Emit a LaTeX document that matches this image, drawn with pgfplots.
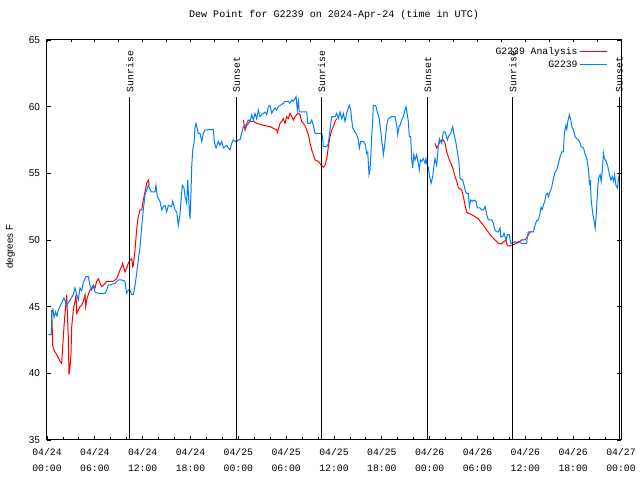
\documentclass[border=0pt]{standalone}
\usepackage{fontspec}
\setmainfont{Liberation Mono}
\newfontfamily\sansf{Liberation Sans}
\usepackage{pgfplots}
\pgfplotsset{compat=1.18}
\definecolor{obsblue}{RGB}{0,128,255}
\definecolor{anared}{RGB}{255,0,0}
\begin{document}
\begin{tikzpicture}[x=1bp,y=1bp]
\useasboundingbox (-47,-40) rectangle (593,440);
\begin{axis}[
  at={(0,0)}, anchor=south west, scale only axis,
  width=574bp, height=400bp,
  xmin=0, xmax=72, ymin=35, ymax=65,
  axis x line*=top, axis y line=none, tick align=inside,
  xtick={0,3,...,72}, xticklabels={}, major tick length=2.5bp,
  tick style={black, line width=0.8bp},
  axis line style={draw=none},
]
\end{axis}
\begin{axis}[
  at={(0,0)}, anchor=south west, scale only axis,
  width=574bp, height=400bp,
  xmin=0, xmax=72, ymin=35, ymax=65,
  clip=false,
  xtick pos=left,
  xtick={0,6,...,72}, minor x tick num=2,
  xticklabels={{04/24\\00:00},{04/24\\06:00},{04/24\\12:00},{04/24\\18:00},{04/25\\00:00},{04/25\\06:00},{04/25\\12:00},{04/25\\18:00},{04/26\\00:00},{04/26\\06:00},{04/26\\12:00},{04/26\\18:00},{04/27\\00:00}},
  xticklabel style={align=center, font=\fontsize{9.8}{16.3}\selectfont, yshift=-5bp},
  ytick={35,40,...,65},
  /pgf/number format/assume math mode=true,
  yticklabel style={font=\sansf\fontsize{10}{11}\selectfont, xshift=-3.5bp},
  ylabel={degrees F},
  ylabel style={font=\sansf\fontsize{9.8}{10}\selectfont, at={(axis description cs:-0.064,0.483)}, anchor=center},
  title={Dew Point for G2239 on 2024-Apr-24 (time in UTC)},
  title style={font=\fontsize{10.1}{11}\selectfont, at={(axis description cs:0.5,1)}, anchor=base, yshift=17bp},
  major tick length=4bp, minor tick length=2.5bp,
  tick style={black, line width=0.8bp},
  axis line style={black, line width=1bp},
  unbounded coords=jump,
  legend style={draw=none, fill=none, at={(rel axis cs:1,1)}, anchor=north east, xshift=-10bp, yshift=-3bp,
    font=\fontsize{9.8}{11}\selectfont, row sep=1bp, /tikz/every even column/.append style={column sep=3bp}},
  legend cell align=right,
  legend plot pos=right,
  legend image post style={xscale=1.6},
]
\addplot[color=anared, line width=1bp] coordinates {
(0.59,44.75) (0.72,42.1) (0.79,41.9) (1.0,41.6) (1.22,41.4) (1.63,40.9) (1.84,40.75) (1.97,42.0) (2.13,43.5) (2.26,44.5) (2.47,45.9) (2.67,42.75) (2.76,39.9) (2.89,40.5) (3.01,41.5) (3.10,43.5) (3.30,44.75) (3.51,45.4) (3.64,45.9) (3.73,44.5) (3.93,44.75) (4.14,45.0) (4.35,45.1) (4.55,45.4) (4.77,45.9) (4.85,45.0) (4.98,45.5) (5.18,45.9) (5.39,46.25) (5.61,46.4) (5.81,46.6) (6.02,46.4) (6.23,46.9) (6.44,47.1) (6.65,46.75) (6.86,46.5) (7.06,46.6) (7.49,46.9) (7.90,46.9) (8.32,46.9) (8.53,47.0) (8.74,47.1) (8.94,47.4) (9.16,47.75) (9.37,48.0) (9.49,48.25) (9.78,47.6) (9.99,47.9) (10.20,48.25) (10.41,48.5) (10.62,48.6) (10.75,48.0) (10.83,48.1) (11.04,49.25) (11.17,50.25) (11.33,51.25) (11.45,51.75) (11.67,52.25) (11.88,52.25) (12.08,53.0) (12.29,53.6) (12.51,54.25) (12.71,54.5) (12.83,54.1)
(13,nan)
(24.62,59.0) (24.84,58.25) (25.05,58.6) (25.46,58.9) (25.88,58.9) (26.30,58.75) (27.14,58.6) (27.97,58.5) (28.81,58.25) (28.89,58.05) (29.23,58.75) (29.45,58.9) (29.64,59.1) (29.85,58.75) (30.07,59.25) (30.27,59.1) (30.48,59.5) (30.70,59.25) (30.90,59.0) (31.11,59.25) (31.32,59.4) (31.53,59.5) (31.74,59.4) (31.94,58.9) (32.36,58.6) (32.58,58.25) (32.78,57.9) (33.0,57.25) (33.21,56.75) (33.41,56.4) (33.62,56.0) (34.03,55.9) (34.24,55.75) (34.46,55.55) (34.66,55.45) (34.87,55.6) (35.09,56.1) (35.29,57.0) (35.50,57.75) (35.71,58.25) (35.92,58.5) (36.13,58.9) (36.34,59.1)
(40,nan)
(48.67,57.25) (48.88,56.9) (49.08,57.1) (49.30,57.4) (49.64,57.5) (49.71,57.5) (49.93,57.25) (50.14,56.6) (50.47,56.0) (50.77,55.6) (50.97,55.25) (51.18,54.75) (51.40,54.4) (51.60,53.9) (51.81,53.85) (52.02,53.75) (52.23,53.25) (52.44,52.6) (52.65,52.1) (52.85,52.0) (53.27,51.9) (53.69,51.75) (54.10,51.6) (54.32,51.4) (54.74,51.1) (55.16,50.75) (55.57,50.4) (55.78,50.25) (56.20,50.0) (56.62,49.75) (57.04,49.7) (57.24,49.85) (57.58,50.0) (57.75,49.55) (58.09,49.55) (58.43,49.65) (58.71,49.7) (59.12,49.8) (59.54,50.0) (59.96,50.0) (60.25,50.25) (60.59,50.6) (60.80,50.6)
};
\addlegendentry{G2239 Analysis}
\addplot[color=obsblue, line width=1bp] coordinates {
(0.16,42.9) (0.55,42.9) (0.59,44.5) (0.75,44.8) (0.88,44.2) (1.07,44.6) (1.25,44.3) (1.42,44.75) (1.84,45.3) (2.13,45.65) (2.47,45.1) (2.89,45.5) (3.30,45.9) (3.51,46.4) (3.73,45.9) (3.93,45.5) (4.14,46.4) (4.35,46.2) (4.55,46.8) (4.89,47.25) (5.18,47.25) (5.39,46.6) (5.61,46.25) (5.81,46.6) (6.02,46.1) (6.44,46.0) (7.28,46.0) (7.49,46.25) (7.69,46.6) (8.53,46.75) (8.94,47.0) (9.37,47.0) (9.78,46.9) (9.99,46.0) (10.20,46.25) (10.41,46.25) (10.62,45.9) (10.83,45.9) (11.04,46.6) (11.25,47.5) (11.45,48.5) (11.67,49.5) (11.88,51.0) (12.08,52.25) (12.29,53.4) (12.51,53.75) (12.71,54.1) (12.92,53.8) (13.13,53.6) (13.55,53.6) (13.67,54.1) (13.84,53.25) (14.17,52.9) (14.39,52.25) (14.59,52.5) (14.80,52.6) (15.01,52.1) (15.22,52.6) (15.64,52.5) (15.77,52.9) (16.06,52.25) (16.27,52.1) (16.47,51.1) (16.68,51.9) (16.81,52.9) (16.97,54.1) (17.19,53.9) (17.31,53.25) (17.52,52.75) (17.65,54.5) (17.85,52.25) (17.94,51.6) (18.06,53.5) (18.15,55.5) (18.28,56.75) (18.44,57.25) (18.56,58.4) (18.69,58.75) (18.98,58.0) (19.19,58.0) (19.41,57.4) (19.61,58.0) (19.82,58.25) (20.86,58.3) (20.99,57.4) (21.20,56.9) (21.49,57.4) (21.70,57.1) (21.91,57.4) (22.12,56.9) (22.54,57.1) (22.74,56.9) (22.96,56.75) (23.17,57.25) (23.37,57.5) (23.58,57.4) (23.80,57.4) (24.00,57.5) (24.21,57.5) (24.42,58.0) (24.62,58.5) (24.84,58.5) (25.05,58.75) (25.25,59.0) (25.46,58.9) (25.68,59.4) (25.88,59.0) (26.09,59.5) (26.30,59.1) (26.51,59.75) (26.72,59.25) (26.93,59.4) (27.14,59.5) (27.35,59.6) (27.56,59.4) (27.76,60.0) (27.97,60.1) (28.19,59.5) (28.39,59.75) (28.60,59.9) (28.81,59.75) (29.02,60.0) (29.64,60.25) (29.85,60.4) (30.27,60.4) (30.48,60.25) (30.70,60.5) (30.90,60.4) (31.11,60.6) (31.24,60.75) (31.40,59.75) (31.53,60.4) (31.65,59.6) (32.58,59.6) (32.71,58.75) (33.0,58.75) (33.21,59.0) (33.41,58.6) (33.62,58.0) (34.24,58.0) (34.46,58.0) (34.58,57.6) (34.66,57.0) (35.09,57.0) (35.29,57.25) (35.50,58.25) (35.71,59.25) (36.13,59.25) (36.34,59.5) (36.54,59.1) (36.75,59.6) (36.97,59.1) (37.17,59.5) (37.38,58.9) (37.59,59.5) (37.80,59.9) (37.92,60.1) (38.10,59.75) (38.22,59.0) (38.35,58.4) (38.64,58.1) (38.85,57.9) (39.05,57.5) (39.18,56.9) (39.35,57.4) (39.68,57.4) (39.89,57.25) (40.10,56.5) (40.23,56.6) (40.39,54.9) (40.52,55.25) (40.64,56.6) (40.73,57.75) (40.85,58.9) (40.93,60.1) (41.14,60.1) (41.27,60.0) (41.43,59.6) (41.68,59.1) (41.77,58.6) (41.90,58.0) (41.98,57.5) (42.11,56.9) (42.19,56.4) (42.31,56.9) (42.44,57.6) (42.61,58.6) (42.81,59.1) (43.24,59.25) (43.65,59.25) (43.87,58.6) (43.99,57.9) (44.16,58.5) (44.28,58.6) (44.49,59.0) (44.69,59.25) (44.91,59.75) (45.03,60.0) (45.20,59.4) (45.32,58.9) (45.45,57.75) (45.62,57.75) (45.75,56.0) (45.87,55.4) (46.0,56.4) (46.16,56.0) (46.37,56.4) (46.57,55.75) (46.70,55.25) (46.83,56.0) (47.0,55.9) (47.21,56.1) (47.42,55.75) (47.54,56.1) (47.63,55.75) (47.83,55.4) (47.95,54.9) (48.17,54.25) (48.38,54.75) (48.55,55.6) (48.67,56.1) (48.88,55.6) (49.08,57.0) (49.21,57.6) (49.39,57.4) (49.51,57.25) (49.71,58.1) (49.93,58.1) (50.05,57.9) (50.22,57.5) (50.47,57.9) (50.64,58.0) (50.89,58.5) (51.06,57.9) (51.31,57.25) (51.47,56.6) (51.65,56.0) (51.81,54.6) (52.15,54.5) (52.35,54.0) (52.53,53.6) (52.65,53.5) (52.85,53.5) (52.98,52.5) (53.15,53.0) (53.36,52.9) (53.56,53.0) (53.81,52.9) (53.98,52.4) (54.32,52.4) (54.53,52.25) (54.74,52.25) (54.95,52.5) (55.16,51.9) (55.36,51.5) (55.78,51.5) (55.99,51.25) (56.20,50.75) (56.41,50.6) (56.62,50.6) (56.83,50.9) (56.91,50.25) (57.16,50.25) (57.33,50.5) (57.58,50.0) (57.75,50.4) (58.0,50.4) (58.17,49.75) (58.50,49.8) (58.71,49.9) (58.92,49.75) (59.12,49.9) (59.33,49.8) (59.54,49.75) (60.17,49.75) (60.25,50.25) (60.37,50.6) (61.0,50.6) (61.21,51.1) (61.42,51.45) (61.63,51.5) (61.84,52.0) (61.97,52.45) (62.13,52.3) (62.26,52.6) (62.47,53.0) (62.59,53.4) (62.76,53.5) (62.89,53.25) (63.10,53.6) (63.32,54.0) (63.52,54.6) (63.73,55.1) (63.94,55.25) (64.15,55.75) (64.36,56.25) (64.57,56.6) (64.77,56.6) (64.90,58.0) (65.08,58.6) (65.20,58.3) (65.33,58.9) (65.53,59.4) (65.70,59.0) (65.83,58.5) (66.04,58.25) (66.24,57.75) (66.46,57.6) (66.67,57.5) (66.88,57.25) (67.0,57.0) (67.30,56.9) (67.51,56.4) (67.72,56.1) (67.93,55.25) (68.05,54.1) (68.14,54.5) (68.26,53.0) (68.47,51.9) (68.64,51.4) (68.76,50.9) (68.88,51.75) (69.05,53.6) (69.17,54.6) (69.38,54.9) (69.51,54.4) (69.64,55.1) (69.80,56.5) (69.93,56.1) (70.14,55.9) (70.35,55.5) (70.55,54.9) (70.73,54.5) (70.90,54.75) (71.06,54.4) (71.19,54.9) (71.36,54.1) (71.55,53.9) (71.68,54.6) (71.81,55.0)
};
\addlegendentry{G2239}
\addplot[black, line width=1bp, forget plot] coordinates {(10.41,35) (10.41,60.72)};
\addplot[black, line width=1bp, forget plot] coordinates {(23.80,35) (23.80,60.72)};
\addplot[black, line width=1bp, forget plot] coordinates {(34.46,35) (34.46,60.72)};
\addplot[black, line width=1bp, forget plot] coordinates {(47.77,35) (47.77,60.72)};
\addplot[black, line width=1bp, forget plot] coordinates {(58.45,35) (58.45,60.72)};
\addplot[black, line width=1bp, forget plot] coordinates {(71.80,35) (71.80,60.72)};
\node[rotate=90, anchor=west, font=\fontsize{9.8}{11}\selectfont, inner sep=1bp] at (axis cs:10.41,61.0) {Sunrise};
\node[rotate=90, anchor=west, font=\fontsize{9.8}{11}\selectfont, inner sep=1bp] at (axis cs:23.80,61.0) {Sunset};
\node[rotate=90, anchor=west, font=\fontsize{9.8}{11}\selectfont, inner sep=1bp] at (axis cs:34.46,61.0) {Sunrise};
\node[rotate=90, anchor=west, font=\fontsize{9.8}{11}\selectfont, inner sep=1bp] at (axis cs:47.77,61.0) {Sunset};
\node[rotate=90, anchor=west, font=\fontsize{9.8}{11}\selectfont, inner sep=1bp] at (axis cs:58.45,61.0) {Sunrise};
\node[rotate=90, anchor=west, font=\fontsize{9.8}{11}\selectfont, inner sep=1bp] at (axis cs:71.80,61.0) {Sunset};
\end{axis}
\end{tikzpicture}
\end{document}
